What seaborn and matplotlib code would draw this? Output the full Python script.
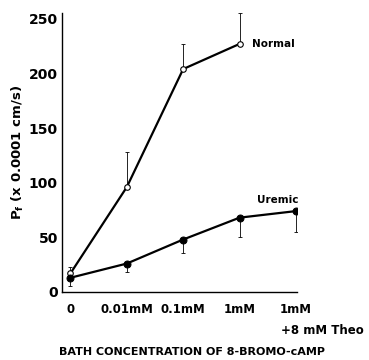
import matplotlib
matplotlib.use("Agg")
import matplotlib.pyplot as plt
import seaborn as sns
import pandas as pd
import numpy as np

categories = ["0", "0.01mM", "0.1mM", "1mM", "1mM"]
normal_x = [0, 1, 2, 3]
normal_mean = [17, 96, 204, 227]
normal_upper = [23, 128, 227, 255]
uremic_x = [0, 1, 2, 3, 4]
uremic_mean = [13, 26, 48, 68, 74]
uremic_lower = [5, 18, 36, 50, 55]

sns.set_theme(style="white")
plt.rcParams['font.family'] = ['DejaVu Sans']
plt.rcParams['text.color'] = 'black'
plt.rcParams['axes.labelcolor'] = 'black'

fig = plt.figure(figsize=(3.69, 3.60), dpi=100)
ax = fig.add_axes([0.168, 0.189, 0.637, 0.774])

df_n = pd.DataFrame({"x": normal_x, "y": normal_mean})
df_u = pd.DataFrame({"x": uremic_x, "y": uremic_mean})

# error bars (one-sided)
ax.errorbar(normal_x, normal_mean,
            yerr=[np.zeros(len(normal_mean)), np.array(normal_upper) - np.array(normal_mean)],
            fmt="none", ecolor="black", elinewidth=0.6, capsize=1.5, capthick=0.6, zorder=1)
ax.errorbar(uremic_x, uremic_mean,
            yerr=[np.array(uremic_mean) - np.array(uremic_lower), np.zeros(len(uremic_mean))],
            fmt="none", ecolor="black", elinewidth=0.6, capsize=1.5, capthick=0.6, zorder=1)

sns.lineplot(data=df_n, x="x", y="y", ax=ax, color="black", linewidth=1.6,
             marker="o", markersize=4, markerfacecolor="white", markeredgecolor="black",
             markeredgewidth=0.8, zorder=3)
sns.lineplot(data=df_u, x="x", y="y", ax=ax, color="black", linewidth=1.6,
             marker="o", markersize=5, markerfacecolor="black", markeredgecolor="black", zorder=3)

ax.set_xlim(-0.15, 4.02)
ax.set_ylim(0, 255)
for s in ["top", "right"]:
    ax.spines[s].set_visible(False)
for s in ["left", "bottom"]:
    ax.spines[s].set_color("black")
    ax.spines[s].set_linewidth(1.0)

font = dict(family="DejaVu Sans", fontweight="bold", color="black")
ax.set_yticks([0, 50, 100, 150, 200, 250])
ax.set_yticklabels(["0", "50", "100", "150", "200", "250"], fontsize=10, **font)
ax.set_xticks(range(len(categories)))
ax.set_xticklabels(categories, fontsize=8.5, **font)
ax.tick_params(axis="y", direction="in", length=3, width=0.6, pad=3, colors="black")
ax.tick_params(axis="x", direction="in", length=2, width=0.6, pad=8, colors="black")
ax.set_xlabel("")
ax.set_ylabel(r"P$_\mathregular{f}$ (x 0.0001 cm/s)", fontsize=9.5, labelpad=2, **font)

ax.text(3.22, 227, "Normal", fontsize=7.5, va="center", ha="left", **font)
ax.text(4.04, 84, "Uremic", fontsize=7.5, va="center", ha="right", **font)

fig.text(0.985, 1 - 330 / 360, "+8 mM Theo", fontsize=8.5, ha="right", va="center", **font)
fig.text(0.52, 1 - 352 / 360, "BATH CONCENTRATION OF 8-BROMO-cAMP", fontsize=8,
         ha="center", va="center", **font)

fig.savefig("out.png", dpi=100, facecolor="white")
